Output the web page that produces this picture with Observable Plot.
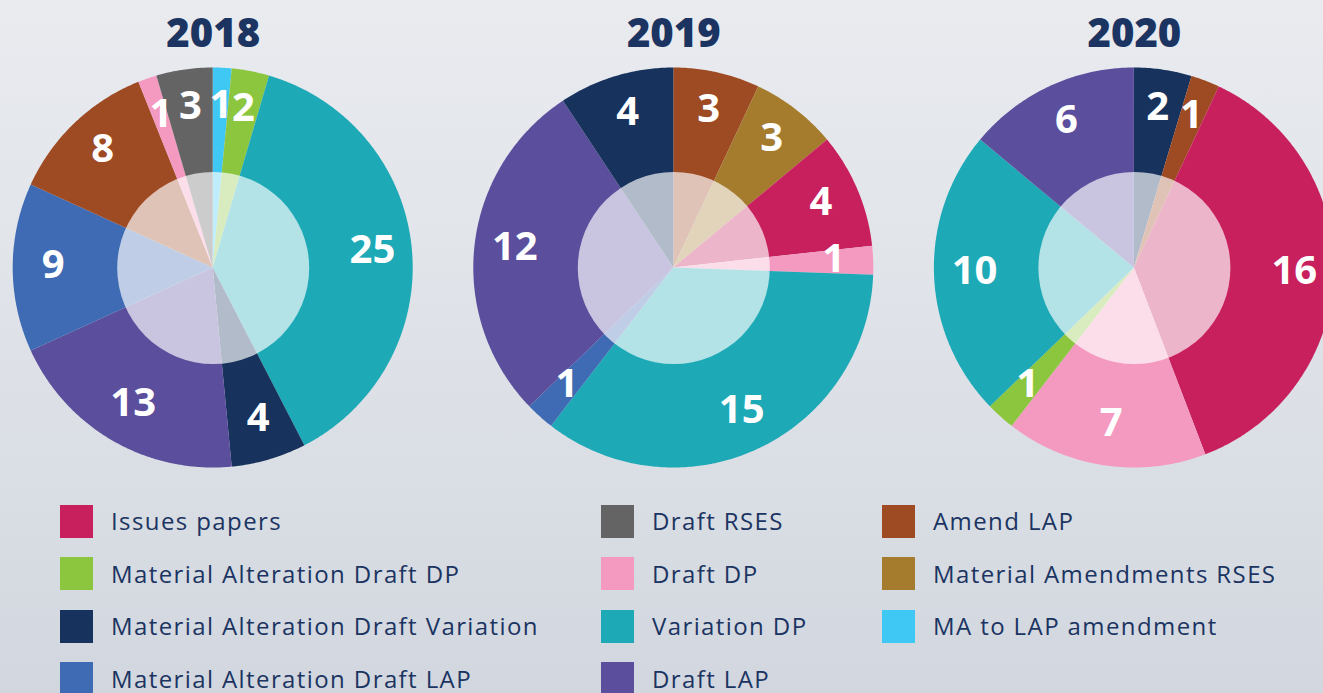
<!DOCTYPE html>
<html>
<head>
<meta charset="utf-8">
<script src="https://cdn.jsdelivr.net/npm/d3@7"></script>
<script src="https://cdn.jsdelivr.net/npm/@observablehq/plot@0.6"></script>
<style>
  html, body { margin: 0; padding: 0; }
  body {
    width: 1323px; height: 693px; overflow: hidden;
    background: linear-gradient(180deg, #e9ebef 0%, #dde1e7 55%, #d2d7df 100%);
    font-family: "Open Sans", sans-serif;
  }
  #chart svg { display: block; overflow: visible; max-width: none; }
  #legend {
    display: grid;
    grid-auto-flow: column;
    grid-template-rows: repeat(4, 52.5px);
    grid-template-columns: 541px 281px auto;
    margin: 5px 0 0 60px;
  }
  .item { display: flex; align-items: center; align-self: center; color: #1b3461; font-size: 24px; line-height: 1; letter-spacing: 1.4px; white-space: nowrap; }
  .item span.t { display: inline-block; line-height: 22px; height: 22px; }
  .sw { width: 33px; height: 33px; margin-right: 18px; flex: none; }
</style>
</head>
<body>
<div id="chart"></div>
<div id="legend"></div>
<script>
// ---- data ----
const years = ["2018", "2019", "2020"];
const categories = [
  "Issues papers", "Material Alteration Draft DP", "Material Alteration Draft Variation", "Material Alteration Draft LAP",
  "Draft RSES", "Draft DP", "Variation DP", "Draft LAP",
  "Amend LAP", "Material Amendments RSES", "MA to LAP amendment"
];
const colors = [
  "#c81f5d", "#8cc63f", "#17325c", "#3e6bb3",
  "#646464", "#f49ac1", "#1da9b6", "#5b4e9d",
  "#9e4a22", "#a57c2e", "#40c8f4"
];
const slices2018 = ["MA to LAP amendment", "Material Alteration Draft DP", "Variation DP", "Material Alteration Draft Variation", "Draft LAP", "Material Alteration Draft LAP", "Amend LAP", "Draft DP", "Draft RSES"];
const values2018 = [1, 2, 25, 4, 13, 9, 8, 1, 3];
const slices2019 = ["Amend LAP", "Material Amendments RSES", "Issues papers", "Draft DP", "Variation DP", "Material Alteration Draft LAP", "Draft LAP", "Material Alteration Draft Variation"];
const values2019 = [3, 3, 4, 1, 15, 1, 12, 4];
const slices2020 = ["Material Alteration Draft Variation", "Amend LAP", "Issues papers", "Draft DP", "Material Alteration Draft DP", "Variation DP", "Draft LAP"];
const values2020 = [2, 1, 16, 7, 1, 10, 6];

// ---- layout ----
const W = 1323, H = 490;
const PX = 200;          // pixels per pie radius
const spacing = 2.303;   // distance between pie centres (in radii)
const x0 = -212.7 / PX;
const yTop = 267.5 / PX;
const labelR = 0.80;
const titleY = 1.1675;

const pies = [[slices2018, values2018], [slices2019, values2019], [slices2020, values2020]];
const wedgePts = [];
const labels = [];
pies.forEach(([cats, vals], i) => {
  const cx = i * spacing;
  const arcs = d3.pie().sort(null).value(d => d.v)(cats.map((c, j) => ({c, v: vals[j]})));
  arcs.forEach((a, j) => {
    const span = a.endAngle - a.startAngle;
    const n = Math.max(2, Math.ceil(span / 0.01));
    for (let k = 0; k <= n; k++) {
      const t = a.startAngle + span * k / n;
      wedgePts.push({key: i + "-" + j, cat: a.data.c, cx, cy: 0, x: cx + Math.sin(t), y: Math.cos(t)});
    }
    const m = (a.startAngle + a.endAngle) / 2;
    labels.push({x: cx + labelR * Math.sin(m), y: labelR * Math.cos(m), text: String(a.data.v)});
  });
});

const chart = Plot.plot({
  width: W, height: H, margin: 0,
  style: {background: "transparent", overflow: "visible", fontFamily: "Open Sans"},
  x: {domain: [x0, x0 + W / PX], range: [0, W], axis: null},
  y: {domain: [yTop - H / PX, yTop], range: [H, 0], axis: null},
  color: {domain: categories, range: colors},
  marks: [
    Plot.area(wedgePts, {x1: "cx", y1: "cy", x2: "x", y2: "y", z: "key", fill: "cat", curve: "linear"}),
    Plot.dot(years, {x: (d, i) => i * spacing, y: 0, r: 96, fill: "white", fillOpacity: 0.67}),
    Plot.text(labels, {x: "x", y: "y", text: "text", fill: "white", fontSize: 40, fontWeight: 700, dy: -3, fontFamily: "Open Sans"}),
    Plot.text(years, {x: (d, i) => i * spacing, y: titleY, text: d => d, fill: "#1b3461", fontSize: 40, fontWeight: 800, fontFamily: "Open Sans"})
  ]
});
document.getElementById("chart").appendChild(chart);

const legend = document.getElementById("legend");
categories.forEach((c, i) => {
  const item = document.createElement("div");
  item.className = "item";
  const sw = document.createElement("span");
  sw.className = "sw";
  sw.style.background = colors[i];
  const t = document.createElement("span");
  t.className = "t";
  t.textContent = c;
  item.appendChild(sw);
  item.appendChild(t);
  legend.appendChild(item);
});
</script>
</body>
</html>
